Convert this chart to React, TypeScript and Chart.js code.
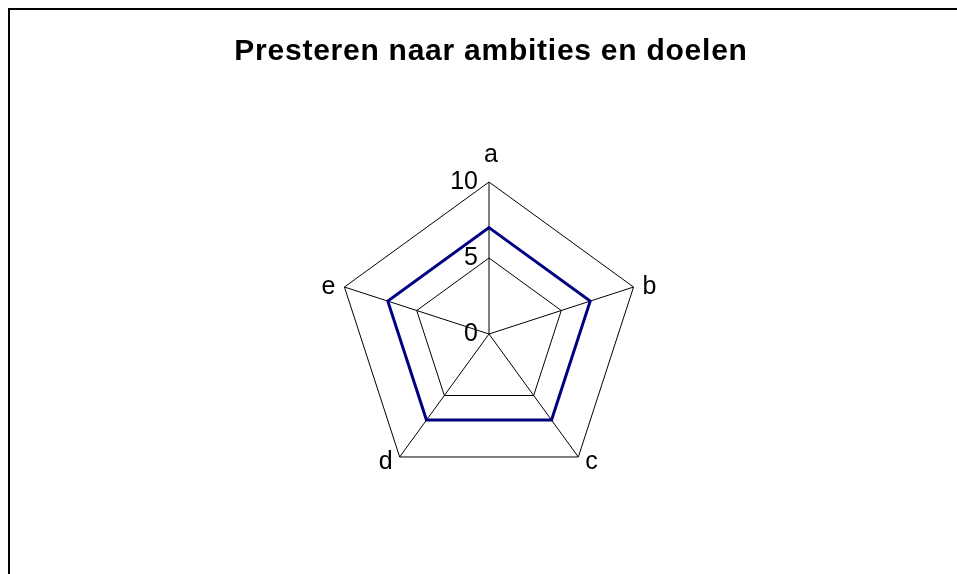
import React, { useEffect, useRef } from "react";
import { Chart, registerables } from "chart.js";

Chart.register(...registerables);

const titleText = "Presteren naar ambities en doelen";
const categories = ["a", "b", "c", "d", "e"];
const seriesValues = [7, 7, 7, 7, 7];
const tickValues = [0, 5, 10];

const FONT_FAMILY = '"Liberation Sans", Arial, Helvetica, sans-serif';

const labelsPlugin = {
  id: "excelLabels",
  afterDraw(chart: any) {
    const ctx = chart.ctx as CanvasRenderingContext2D;
    const scale = chart.scales.r;
    ctx.save();
    // title
    ctx.font = `bold 30px ${FONT_FAMILY}`;
    (ctx as any).letterSpacing = "0.75px";
    ctx.fillStyle = "#000";
    ctx.textAlign = "center";
    ctx.textBaseline = "alphabetic";
    ctx.fillText(titleText, chart.width / 2 + 1, 50);
    (ctx as any).letterSpacing = "0px";

    // tick labels
    ctx.font = `25px ${FONT_FAMILY}`;
    ctx.textAlign = "right";
    ctx.textBaseline = "middle";
    scale.ticks.forEach((t: any) => {
      const d = scale.getDistanceFromCenterForValue(t.value);
      ctx.fillText(String(t.value), scale.xCenter - 11, scale.yCenter - d);
    });

    // point labels (placed next to the outer vertex of each axis)
    (chart.data.labels as string[]).forEach((lab, i) => {
      const ang = scale.getIndexAngle(i);
      const s = Math.sin(ang);
      const c = Math.cos(ang);
      const v = scale.getPointPosition(i, scale.drawingArea);
      if (Math.abs(s) < 0.1) {
        ctx.textAlign = "center";
        ctx.textBaseline = c > 0 ? "alphabetic" : "top";
        ctx.fillText(lab, v.x + 2, c > 0 ? v.y - 20 : v.y + 8);
      } else {
        ctx.textAlign = s > 0 ? "left" : "right";
        ctx.textBaseline = "middle";
        const gap = c < 0 ? 7 : 9;
        ctx.fillText(lab, v.x + (s > 0 ? gap : -gap), v.y + (c < 0 ? 5 : 0));
      }
    });
    ctx.restore();
  },
};

export default function App() {
  const ref = useRef<HTMLCanvasElement | null>(null);

  useEffect(() => {
    if (!ref.current) return;
    const chart = new Chart(ref.current, {
      type: "radar",
      data: {
        labels: categories,
        datasets: [
          {
            label: "Score",
            data: seriesValues,
            borderColor: "#000080",
            borderWidth: 3,
            borderJoinStyle: "miter",
            fill: false,
            pointRadius: 0,
            pointHoverRadius: 0,
            tension: 0,
          },
        ],
      },
      options: {
        responsive: false,
        animation: false,
        devicePixelRatio: 1,
        layout: { padding: { left: 327, right: 328, top: 172, bottom: 123 } },
        plugins: {
          legend: { display: false },
          title: { display: false },
          tooltip: { enabled: false },
        },
        scales: {
          r: {
            min: 0,
            max: 10,
            afterBuildTicks: (s: any) => {
              s.ticks = tickValues.map((v) => ({ value: v }));
            },
            ticks: { display: false, stepSize: 5 },
            pointLabels: { display: false },
            grid: { color: "#000", lineWidth: 1, circular: false },
            angleLines: { color: "#000", lineWidth: 1 },
          },
        },
      },
      plugins: [labelsPlugin],
    } as any);
    return () => chart.destroy();
  }, []);

  return (
    <div
      style={{
        position: "fixed",
        left: 0,
        top: 0,
        width: 957,
        height: 574,
        overflow: "hidden",
        background: "#fff",
      }}
    >
      <div
        style={{
          position: "absolute",
          left: 8,
          top: 8,
          width: 964,
          height: 620,
          border: "2px solid #000",
          boxSizing: "border-box",
          background: "#fff",
        }}
      >
        <canvas ref={ref} width={960} height={600} style={{ display: "block" }} />
      </div>
    </div>
  );
}
